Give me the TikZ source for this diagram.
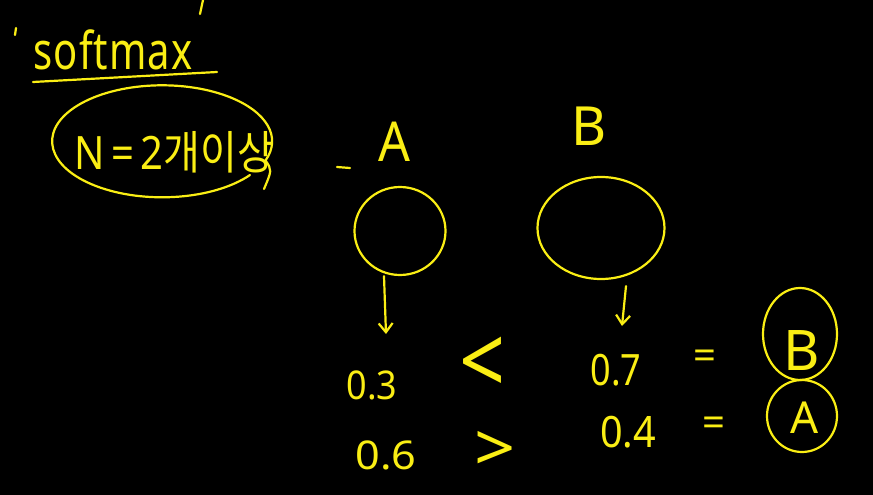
\documentclass[tikz,border=0pt]{standalone}
\usepackage{fontspec}
\setmainfont{Noto Sans}
\newfontfamily\kr{Noto Sans CJK KR}
\usetikzlibrary{arrows.meta,shapes.geometric}
\definecolor{pen}{RGB}{250,238,20}
\begin{document}
\begin{tikzpicture}[x=1pt,y=-1pt,
  ink/.style={draw=pen,line width=2.2pt,line cap=round,line join=round},
  hand/.style={text=pen,inner sep=0pt,font=\fontsize{#1}{#1}\selectfont},
  hand/.default=40,
  down/.style={ink,-{Straight Barb[length=9pt,width=14pt,line width=2.2pt]}}]
\fill[black] (0,0) rectangle (873,495);
\useasboundingbox (0,0) rectangle (873,495);
% stray strokes
\coordinate (q1a) at (16,28); \coordinate (q1b) at (15,35);
\draw[ink] (q1a) -- (q1b);
\coordinate (q2a) at (203,0); \coordinate (q2b) at (200,14);
\draw[ink] (q2a) -- (q2b);
% title
\node[hand=40] (sm) at (113,50) {\scalebox{1.0}[1.3]{s\kern1pt o\kern1pt f\kern1pt t\kern1pt m\kern1pt a\kern1pt x}};
\coordinate (ul1) at (33,82); \coordinate (ul2) at (217,72);
\draw[ink] (ul1) -- (ul2);
% N = 2개이상 in an ellipse
\node[hand=40] (n) at (174,152) {\scalebox{1}[1.15]{N\,=\,2{\kr 개이상}}};
\draw[ink] (250,175) arc[start angle=37,end angle=380,x radius=110,y radius=56]
  coordinate (ee) (ee) .. controls (272,170) .. (264,189);
% A and B
\node[hand=50] (la) at (394,142) {\scalebox{1}[1.1]{A}};
\node[hand=54] (lb) at (589,126) {B};
\coordinate (d1) at (337,167); \coordinate (d2) at (350,168);
\draw[ink] (d1) -- (d2);
\node[ink,ellipse,minimum width=91pt,minimum height=88pt,inner sep=0pt] (ca) at (400,231) {};
\node[ink,ellipse,minimum width=127pt,minimum height=102pt,inner sep=0pt] (cb) at (601,228) {};
\coordinate (ea) at (386,334);
\coordinate (eb) at (622,326);
\draw[down] (ca.south) ++(-16,0) coordinate (sa) (sa) -- (ea);
\draw[down] (cb.south) ++(25,6) coordinate (sb) (sb) -- (eb);
% values
\node[hand=36] (v3) at (372,385) {\scalebox{1}[1.1]{0.3}};
\node[hand=70] (lt) at (483,366) {\scalebox{1.15}[1.35]{<}};
\node[hand=36] (v7) at (616,370) {\scalebox{1}[1.2]{0.7}};
\node[hand=40] (eq1) at (705,360) {=};
\node[hand=36] (v6) at (386,455) {\scalebox{1.2}[1.1]{0.6}};
\node[hand=60] (gt) at (495,451) {\scalebox{1.2}[1.1]{>}};
\node[hand=36] (v4) at (628,432) {\scalebox{1.1}[1.2]{0.4}};
\node[hand=40] (eq2) at (714,427) {=};
% circled winners
\node[ink,ellipse,minimum width=74pt,minimum height=92pt,inner sep=0pt] (wb) at (800,334) {};
\node[hand=56] at (802,351) {B};
\node[ink,ellipse,minimum width=70pt,minimum height=72pt,inner sep=0pt] (wa) at (802,416) {};
\node[hand=44] at (805,418) {A};
\end{tikzpicture}
\end{document}
